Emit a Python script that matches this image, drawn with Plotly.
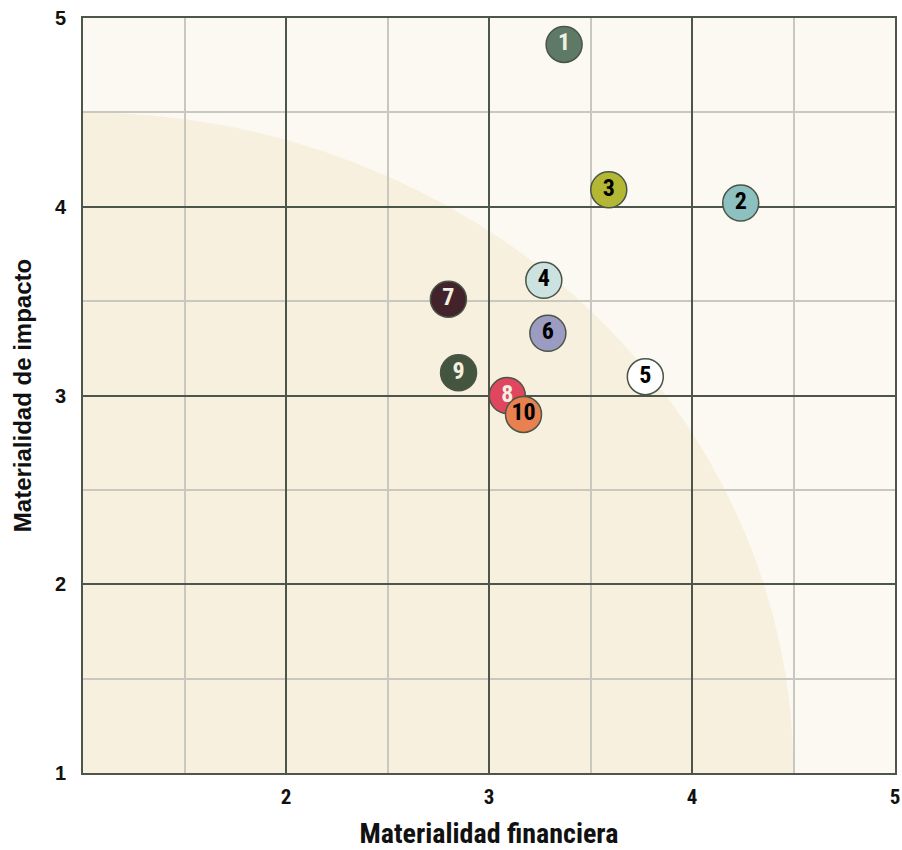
import plotly.graph_objects as go

labels = ["1", "2", "3", "4", "5", "6", "7", "8", "9", "10"]
financiera = [3.37, 4.24, 3.59, 3.27, 3.77, 3.29, 2.80, 3.09, 2.85, 3.17]
impacto = [4.86, 4.02, 4.09, 3.61, 3.10, 3.33, 3.51, 3.00, 3.12, 2.90]
colors = ["#5e7a66", "#8dc0c1", "#b4b734", "#cce2e1", "#ffffff",
          "#9c9cc3", "#42232b", "#e0465e", "#44553f", "#e8814f"]
text_colors = ["#f3efe2", "#000000", "#000000", "#000000", "#000000",
               "#000000", "#f3efe2", "#f3efe2", "#f3efe2", "#000000"]
x_ticks = [2, 3, 4, 5]
y_ticks = [1, 2, 3, 4, 5]

COND = "Roboto Condensed, Liberation Sans Narrow, DejaVu Sans Condensed, Roboto"
ARIAL = "Liberation Sans, Arial, sans-serif"

fig = go.Figure()
fig.add_trace(go.Scatter(
    x=financiera, y=impacto, mode="markers+text", text=labels,
    textposition="middle center",
    textfont=dict(family=COND, size=24, color=text_colors, weight="bold"),
    marker=dict(size=36, color=colors, line=dict(color="#4a5547", width=1.5)),
    hoverinfo="skip", showlegend=False,
))

fig.add_shape(type="circle", xref="x", yref="y", x0=-2.5, x1=4.5, y0=-2.5, y1=4.5,
              fillcolor="#f8f0df", line=dict(width=0), layer="below")

grid_major = "#4c5749"
grid_minor = "#c9c8c0"
axis_common = dict(
    showline=True, linecolor=grid_major, linewidth=2, mirror=True,
    showgrid=True, gridcolor=grid_major, gridwidth=2,
    zeroline=False, ticks="", automargin=False, ticklabeloverflow="allow",
    minor=dict(tickmode="linear", tick0=1, dtick=0.5, showgrid=True,
               gridcolor=grid_minor, gridwidth=1.5, ticks=""),
    range=[1, 5], fixedrange=True,
)
fig.update_xaxes(**axis_common, tickmode="array", tickvals=x_ticks,
                 ticktext=[str(v) for v in x_ticks], ticklabelstandoff=4,
                 tickfont=dict(family=COND, size=21, color="#111111", weight="bold"),
                 title_text="Materialidad financiera", title_standoff=37,
                 title_font=dict(family=COND, size=28, color="#111111", weight="bold"))
fig.update_yaxes(**axis_common, tickmode="array", tickvals=y_ticks,
                 ticktext=[str(v) for v in y_ticks], ticklabelstandoff=11,
                 tickfont=dict(family=ARIAL, size=20, color="#111111", weight="bold"),
                 title_text="Materialidad de impacto", title_standoff=16,
                 title_font=dict(family=ARIAL, size=24, color="#111111", weight="bold"))

fig.update_layout(
    width=902, height=850,
    margin=dict(l=83, r=7, t=18, b=77),
    plot_bgcolor="#fcf9f2", paper_bgcolor="#ffffff",
)
fig.write_html("out.html", config={"displayModeBar": False},
               post_script="document.body.style.margin='0';document.body.style.overflow='hidden';")
